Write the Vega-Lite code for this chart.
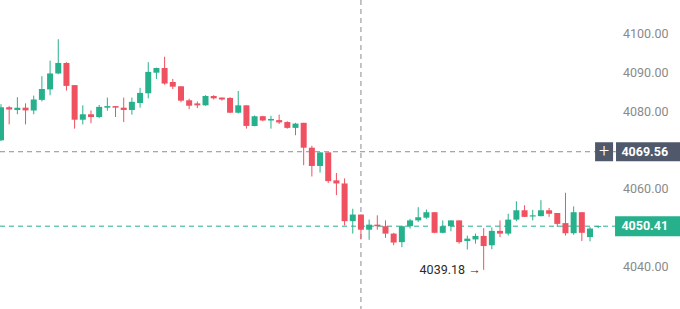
{
  "$schema": "https://vega.github.io/schema/vega-lite/v6.json",
  "width": 680,
  "height": 309,
  "padding": 0,
  "autosize": {"type": "none"},
  "background": "#ffffff",
  "config": {"view": {"stroke": null}, "font": "Roboto"},
  "data": {"values": [
      {"i":0,"o":4072.5,"h":4081.8,"l":4072.3,"c":4081.0},
      {"i":1,"o":4081.0,"h":4081.3,"l":4076.6,"c":4080.4},
      {"i":2,"o":4080.3,"h":4083.6,"l":4079.2,"c":4080.9},
      {"i":3,"o":4080.9,"h":4082.0,"l":4076.6,"c":4080.2},
      {"i":4,"o":4080.2,"h":4084.0,"l":4079.2,"c":4083.0},
      {"i":5,"o":4082.9,"h":4089.0,"l":4082.5,"c":4085.7},
      {"i":6,"o":4085.6,"h":4093.0,"l":4084.1,"c":4089.7},
      {"i":7,"o":4089.7,"h":4098.5,"l":4089.5,"c":4092.4},
      {"i":8,"o":4092.4,"h":4092.6,"l":4085.3,"c":4086.5},
      {"i":9,"o":4086.7,"h":4086.7,"l":4075.5,"c":4077.8},
      {"i":10,"o":4077.8,"h":4081.5,"l":4076.6,"c":4079.2},
      {"i":11,"o":4079.2,"h":4080.2,"l":4076.9,"c":4078.5},
      {"i":12,"o":4078.5,"h":4081.6,"l":4078.2,"c":4081.1},
      {"i":13,"o":4080.9,"h":4083.5,"l":4080.1,"c":4081.3},
      {"i":14,"o":4081.3,"h":4081.3,"l":4078.5,"c":4080.9},
      {"i":15,"o":4080.9,"h":4083.5,"l":4077.2,"c":4080.3},
      {"i":16,"o":4080.3,"h":4083.5,"l":4079.1,"c":4082.4},
      {"i":17,"o":4082.1,"h":4086.0,"l":4080.9,"c":4084.7},
      {"i":18,"o":4084.6,"h":4092.6,"l":4083.3,"c":4090.1},
      {"i":19,"o":4089.9,"h":4091.2,"l":4088.3,"c":4091.1},
      {"i":20,"o":4091.1,"h":4094.0,"l":4086.8,"c":4087.1},
      {"i":21,"o":4087.5,"h":4088.3,"l":4085.7,"c":4086.3},
      {"i":22,"o":4086.4,"h":4086.4,"l":4082.3,"c":4082.7},
      {"i":23,"o":4082.8,"h":4083.2,"l":4080.5,"c":4081.4},
      {"i":24,"o":4082.0,"h":4082.5,"l":4080.8,"c":4081.5},
      {"i":25,"o":4081.5,"h":4084.1,"l":4081.4,"c":4083.9},
      {"i":26,"o":4083.9,"h":4084.1,"l":4083.0,"c":4083.3},
      {"i":27,"o":4083.5,"h":4083.5,"l":4082.7,"c":4083.0},
      {"i":28,"o":4083.4,"h":4083.6,"l":4079.5,"c":4079.6},
      {"i":29,"o":4079.6,"h":4085.2,"l":4079.4,"c":4081.5},
      {"i":30,"o":4081.5,"h":4081.5,"l":4075.5,"c":4076.2},
      {"i":31,"o":4076.2,"h":4078.9,"l":4076.1,"c":4078.7},
      {"i":32,"o":4078.7,"h":4078.8,"l":4077.4,"c":4077.6},
      {"i":33,"o":4077.6,"h":4078.8,"l":4075.5,"c":4078.0},
      {"i":34,"o":4077.7,"h":4079.1,"l":4076.7,"c":4077.1},
      {"i":35,"o":4077.2,"h":4077.4,"l":4075.5,"c":4075.7},
      {"i":36,"o":4075.7,"h":4077.0,"l":4073.8,"c":4076.8},
      {"i":37,"o":4077.0,"h":4077.0,"l":4066.1,"c":4070.6},
      {"i":38,"o":4070.6,"h":4071.1,"l":4063.2,"c":4065.9},
      {"i":39,"o":4065.9,"h":4069.4,"l":4064.2,"c":4069.4},
      {"i":40,"o":4069.4,"h":4069.4,"l":4061.5,"c":4062.0},
      {"i":41,"o":4062.2,"h":4064.1,"l":4058.4,"c":4061.4},
      {"i":42,"o":4061.4,"h":4062.7,"l":4050.6,"c":4051.7},
      {"i":43,"o":4051.7,"h":4054.9,"l":4048.5,"c":4053.4},
      {"i":44,"o":4053.4,"h":4053.4,"l":4047.0,"c":4049.5},
      {"i":45,"o":4049.5,"h":4052.1,"l":4046.9,"c":4050.8},
      {"i":46,"o":4050.8,"h":4053.2,"l":4049.5,"c":4050.4},
      {"i":47,"o":4050.4,"h":4051.9,"l":4047.4,"c":4048.5},
      {"i":48,"o":4048.5,"h":4048.7,"l":4045.5,"c":4046.2},
      {"i":49,"o":4046.3,"h":4050.6,"l":4045.0,"c":4050.4},
      {"i":50,"o":4050.4,"h":4052.3,"l":4049.8,"c":4051.9},
      {"i":51,"o":4051.9,"h":4055.3,"l":4051.5,"c":4052.7},
      {"i":52,"o":4052.6,"h":4054.7,"l":4052.3,"c":4054.0},
      {"i":53,"o":4054.0,"h":4054.0,"l":4048.6,"c":4048.7},
      {"i":54,"o":4048.7,"h":4051.9,"l":4048.6,"c":4050.4},
      {"i":55,"o":4050.4,"h":4051.9,"l":4049.1,"c":4051.9},
      {"i":56,"o":4051.9,"h":4051.9,"l":4045.9,"c":4046.3},
      {"i":57,"o":4046.6,"h":4048.0,"l":4044.4,"c":4047.2},
      {"i":58,"o":4047.0,"h":4048.5,"l":4045.9,"c":4047.9},
      {"i":59,"o":4047.9,"h":4049.9,"l":4039.18,"c":4045.3},
      {"i":60,"o":4045.5,"h":4050.1,"l":4044.5,"c":4049.2},
      {"i":61,"o":4049.2,"h":4051.9,"l":4047.6,"c":4048.5},
      {"i":62,"o":4048.5,"h":4053.6,"l":4048.0,"c":4052.1},
      {"i":63,"o":4052.1,"h":4056.8,"l":4051.7,"c":4054.5},
      {"i":64,"o":4054.5,"h":4055.8,"l":4052.8,"c":4052.8},
      {"i":65,"o":4052.9,"h":4054.6,"l":4051.9,"c":4053.2},
      {"i":66,"o":4053.0,"h":4057.1,"l":4052.9,"c":4054.5},
      {"i":67,"o":4054.5,"h":4055.1,"l":4052.8,"c":4053.6},
      {"i":68,"o":4053.8,"h":4053.8,"l":4050.2,"c":4051.0},
      {"i":69,"o":4051.2,"h":4059.0,"l":4048.0,"c":4048.6},
      {"i":70,"o":4048.6,"h":4055.5,"l":4048.2,"c":4054.0},
      {"i":71,"o":4054.0,"h":4054.0,"l":4046.6,"c":4048.7},
      {"i":72,"o":4047.6,"h":4050.2,"l":4046.5,"c":4049.8},
      {"i":73,"o":4050.2,"h":4050.5,"l":4049.9,"c":4050.41}
  ]},
  "layer": [
    {
      "transform": [{"filter": "datum.i == 44"}],
      "mark": {"type": "rule", "color": "#8c8c8c", "strokeDash": [5, 4], "strokeWidth": 1},
      "encoding": {"x": {"field": "i", "type": "quantitative", "scale": {"domain": [-0.122, 83.0], "nice": false, "zero": false, "padding": 0}, "axis": null}}
    },
    {
      "transform": [{"filter": "datum.i == 73"}],
      "mark": {"type": "rule", "color": "#8c8c8c", "strokeDash": [5, 4], "strokeWidth": 1},
      "encoding": {"y": {"datum": 4069.56, "type": "quantitative"}}
    },
    {
      "transform": [{"filter": "datum.i == 73"}],
      "mark": {"type": "rule", "color": "#26b08c", "strokeDash": [5, 4], "strokeWidth": 1},
      "encoding": {"y": {"field": "c", "type": "quantitative"}}
    },
    {
      "mark": {"type": "rule", "strokeWidth": 1},
      "encoding": {
        "x": {"field": "i", "type": "quantitative"},
        "y": {"field": "l", "type": "quantitative",
          "scale": {"domain": [4029.1, 4108.6], "nice": false, "zero": false, "padding": 0},
          "axis": {"orient": "right", "values": [4040, 4060, 4080, 4090, 4100], "format": ".2f",
            "labelAlign": "right", "labelPadding": -12, "ticks": false, "domain": false, "grid": false,
            "labelColor": "#8a8a8a", "labelFont": "Roboto", "labelFontSize": 12.5, "title": null}},
        "y2": {"field": "h"},
        "color": {"condition": {"test": "datum.c >= datum.o", "value": "#26b08c"}, "value": "#ef5160"}
      }
    },
    {
      "mark": {"type": "bar", "width": 6},
      "encoding": {
        "x": {"field": "i", "type": "quantitative"},
        "y": {"field": "o", "type": "quantitative"},
        "y2": {"field": "c"},
        "color": {"condition": {"test": "datum.c >= datum.o", "value": "#26b08c"}, "value": "#ef5160"}
      }
    },
    {
      "transform": [{"filter": "datum.i == 59"}],
      "mark": {"type": "text", "align": "right", "baseline": "middle", "dx": -3, "color": "#2a2a2a", "font": "Roboto", "fontSize": 12.5},
      "encoding": {
        "x": {"field": "i", "type": "quantitative"},
        "y": {"field": "l", "type": "quantitative"},
        "text": {"value": "4039.18 →"}
      }
    },
    {
      "transform": [{"filter": "datum.i == 73"}],
      "mark": {"type": "bar", "height": 19, "color": "#4f596b"},
      "encoding": {
        "x": {"datum": 72.62, "type": "quantitative"},
        "x2": {"datum": 74.82},
        "y": {"datum": 4069.56, "type": "quantitative"}
      }
    },
    {
      "transform": [{"filter": "datum.i == 73"}],
      "mark": {"type": "bar", "height": 19, "color": "#4f596b"},
      "encoding": {
        "x": {"datum": 75.18, "type": "quantitative"},
        "x2": {"datum": 83.0},
        "y": {"datum": 4069.56, "type": "quantitative"}
      }
    },
    {
      "transform": [{"filter": "datum.i == 73"}],
      "mark": {"type": "bar", "height": 20, "color": "#26b08c"},
      "encoding": {
        "x": {"datum": 75.06, "type": "quantitative"},
        "x2": {"datum": 83.0},
        "y": {"field": "c", "type": "quantitative"}
      }
    },
    {
      "transform": [{"filter": "datum.i == 73"}],
      "mark": {"type": "text", "align": "center", "baseline": "middle", "color": "#ffffff", "font": "Roboto", "fontSize": 18, "fontWeight": 300},
      "encoding": {
        "x": {"datum": 73.72, "type": "quantitative"},
        "y": {"datum": 4069.56, "type": "quantitative"},
        "text": {"value": "+"}
      }
    },
    {
      "transform": [{"filter": "datum.i == 73"}],
      "mark": {"type": "text", "align": "right", "baseline": "middle", "color": "#ffffff", "font": "Roboto", "fontSize": 12.5, "fontWeight": "bold"},
      "encoding": {
        "x": {"datum": 81.54, "type": "quantitative"},
        "y": {"datum": 4069.56, "type": "quantitative"},
        "text": {"value": "4069.56"}
      }
    },
    {
      "transform": [{"filter": "datum.i == 73"}],
      "mark": {"type": "text", "align": "right", "baseline": "middle", "color": "#ffffff", "font": "Roboto", "fontSize": 12.5, "fontWeight": "bold"},
      "encoding": {
        "x": {"datum": 81.54, "type": "quantitative"},
        "y": {"field": "c", "type": "quantitative"},
        "text": {"field": "c", "format": ".2f"}
      }
    }
  ]
}
